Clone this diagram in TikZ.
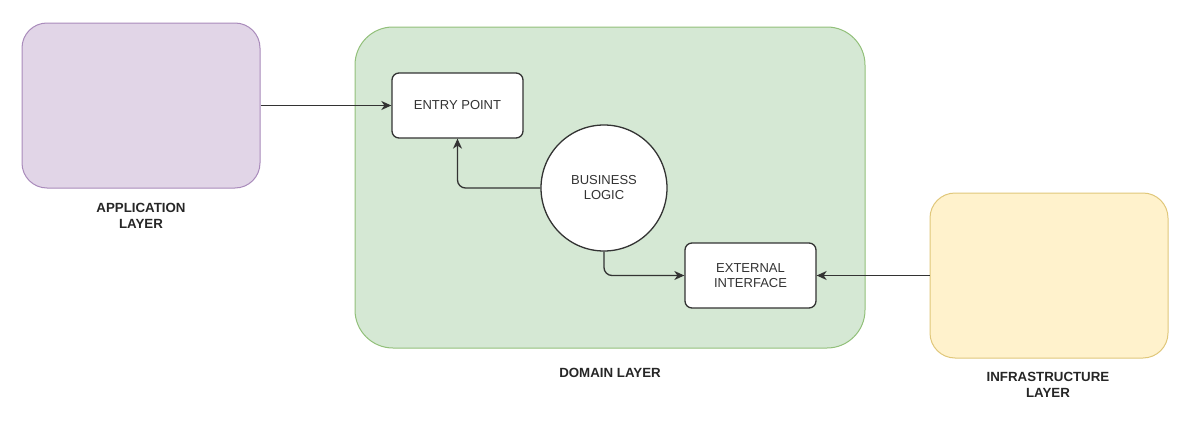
\documentclass[tikz,border=0pt]{standalone}
\usepackage{fontspec}
\setmainfont{Liberation Sans}
\usetikzlibrary{arrows.meta}
\definecolor{appfill}{HTML}{E1D5E7}
\definecolor{appdraw}{HTML}{A98BBB}
\definecolor{domfill}{HTML}{D5E8D4}
\definecolor{domdraw}{HTML}{92C07A}
\definecolor{inffill}{HTML}{FFF2CC}
\definecolor{infdraw}{HTML}{E0C77A}
\definecolor{linec}{HTML}{333333}
\tikzset{
  layerbox/.style={draw=#1draw, fill=#1fill, line width=1pt, rounded corners=25pt, inner sep=0pt},
  innerbox/.style={draw=linec, fill=white, line width=1.3pt, rounded corners=7pt, minimum width=131pt, minimum height=65pt, inner sep=0pt, align=center, font=\fontsize{13}{15}\selectfont, text=linec},
  layerlabel/.style={align=center, font=\fontsize{13.3}{15.5}\selectfont\bfseries, text=black!85},
  conn/.style={draw=linec, line width=1.3pt, rounded corners=8pt, -{Stealth[length=10pt,width=9pt,inset=3pt]}}
}
\begin{document}
\begin{tikzpicture}[x=1pt,y=-1pt]
\useasboundingbox (0,0) rectangle (1195,423);
% layer boxes
\node[layerbox=app, minimum width=238pt, minimum height=165pt] (app) at (141,105.5) {};
\node[layerbox=dom, rounded corners=38pt, minimum width=510pt, minimum height=321pt] (dom) at (610,187.5) {};
\node[layerbox=inf, minimum width=238pt, minimum height=165pt] (inf) at (1049,275.5) {};
% labels
\node[layerlabel] (applbl) at (141,216) {APPLICATION\\LAYER};
\node[layerlabel] (domlbl) at (610,373) {DOMAIN LAYER};
\node[layerlabel] (inflbl) at (1048,385) {INFRASTRUCTURE\\LAYER};
% inner nodes
\node[innerbox] (entry) at (457.5,105.5) {ENTRY POINT};
\node[draw=linec, fill=white, line width=1.3pt, circle, minimum size=126pt, inner sep=0pt, align=center, font=\fontsize{13}{15}\selectfont, text=linec] (biz) at (604,188) {BUSINESS\\LOGIC};
\node[innerbox] (ext) at (750.5,275.5) {EXTERNAL\\INTERFACE};
% connectors
\draw[conn] (app.east |- entry.west) -- (entry.west);
\draw[conn] (biz.west) -| (entry.south);
\draw[conn] (biz.south) |- (ext.west);
\draw[conn] (inf.west |- ext.east) -- (ext.east);
\end{tikzpicture}
\end{document}
